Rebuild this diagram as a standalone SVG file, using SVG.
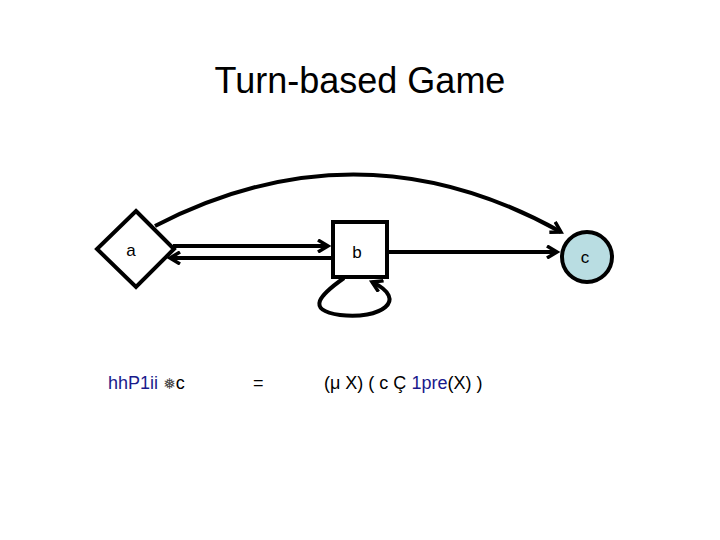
<svg xmlns="http://www.w3.org/2000/svg" width="720" height="540" viewBox="0 0 720 540">
<style>
text{font-family:"Liberation Sans",Arial,sans-serif;fill:#000}
.n{font-size:17px}
.e{fill:none;stroke:#000;stroke-width:4}
.blue{fill:#1a1a8c}
</style>
<defs><marker id="ah" markerWidth="14" markerHeight="14" refX="11" refY="7" orient="auto" markerUnits="userSpaceOnUse"><path d="M1,1 L11,7 L1,13" fill="none" stroke="#000" stroke-width="3.5"/></marker></defs>
<rect width="720" height="540" fill="#fff"/>
<text x="360" y="93" font-size="36" text-anchor="middle">Turn-based Game</text>
<g id="connectors">
<path class="e" d="M155,226 Q360,120 561,232" marker-end="url(#ah)"/>
<line class="e" x1="173" y1="246" x2="328" y2="246" marker-end="url(#ah)"/>
<line class="e" x1="332" y1="258" x2="170" y2="258" marker-end="url(#ah)"/>
<line class="e" x1="387" y1="252" x2="557" y2="252" marker-end="url(#ah)"/>
<path class="e" d="M344,278 C320,295 305,310 340,315 C380,320 410,300 372,282" marker-end="url(#ah)"/>
</g>
<g id="a"><polygon points="136,211 174,249 136,287 97,249" fill="#fff" stroke="#000" stroke-width="4"/><text class="n" x="131" y="256" text-anchor="middle">a</text></g>
<g id="b"><rect x="333" y="222" width="54" height="55" fill="#fff" stroke="#000" stroke-width="4"/><text class="n" x="357" y="258" text-anchor="middle">b</text></g>
<g id="c"><circle cx="587" cy="257" r="25" fill="#b9dde2" stroke="#000" stroke-width="4"/><text class="n" x="585" y="263" text-anchor="middle">c</text></g>
<g id="formula" font-size="18">
<text x="108" y="389"><tspan class="blue">hhP1ii</tspan> <tspan font-family="DejaVu Sans" font-size="15" fill="#444">❅</tspan>c</text>
<text x="253" y="389">=</text>
<text x="324" y="389">(μ X) ( c Ç <tspan class="blue">1pre</tspan>(X) )</text>
</g>
</svg>
